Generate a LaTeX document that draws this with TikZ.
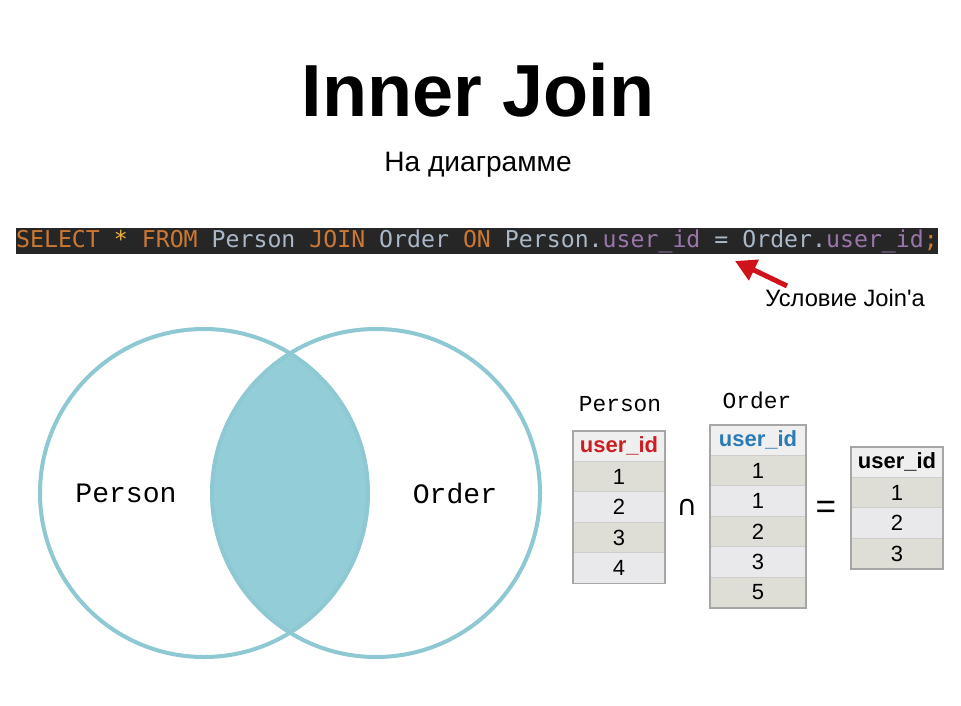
\documentclass[tikz,border=0pt]{standalone}
\usepackage{fontspec}
\setmainfont{Liberation Sans}
\setsansfont{Liberation Sans}
\setmonofont{Liberation Mono}
\newfontfamily\codefont{DejaVu Sans Mono}
\newfontfamily\symfont{DejaVu Sans}
\newfontfamily\notefont{Liberation Sans}[Ligatures=TeXOff]
\usetikzlibrary{arrows.meta,positioning}
\usepackage{xcolor}
\definecolor{codeBg}{HTML}{262626}
\definecolor{kwOrange}{HTML}{CC7832}
\definecolor{starYellow}{HTML}{F0B440}
\definecolor{identGray}{HTML}{A9B7C6}
\definecolor{fieldPurple}{HTML}{9876AA}
\definecolor{pointRed}{HTML}{D0121B}
\definecolor{setTeal}{HTML}{8DC8D3}
\definecolor{lensTeal}{HTML}{92CDD8}
\definecolor{cellLine}{HTML}{A6A6A6}
\definecolor{sepLine}{HTML}{CDCDCD}
\definecolor{headGray}{HTML}{EFEFEF}
\definecolor{rowDark}{HTML}{DEDED6}
\definecolor{rowLight}{HTML}{E9E9EB}
\definecolor{idRed}{HTML}{CC1F24}
\definecolor{idBlue}{HTML}{2C7BB6}
\newcommand{\kw}[1]{\textcolor{kwOrange}{#1}}
\newcommand{\fld}[1]{\textcolor{fieldPurple}{#1}}
\tikzset{
    codebar/.style={
        rectangle,
        fill=codeBg,
        inner sep=0pt,
        minimum width=184mm,
        minimum height=5.2mm,
        text=identGray,
        font=\codefont\fontsize{13.2}{13.2}\selectfont
    },
    setcircle/.style={
        circle,
        draw=setTeal,
        line width=0.8mm,
        minimum size=65.6mm,
        inner sep=0pt
    },
    setlabel/.style={font=\ttfamily\fontsize{16}{16}\selectfont},
    tablabel/.style={font=\ttfamily\fontsize{13}{13}\selectfont},
    cell/.style={
        rectangle,
        draw=sepLine,
        line width=0.25mm,
        outer sep=0pt,
        inner sep=0pt,
        minimum width=18.4mm,
        minimum height=6.1mm,
        font=\fontsize{12.5}{12.5}\selectfont
    },
    headcell/.style={cell, fill=headGray, font=\bfseries\fontsize{12.5}{12.5}\selectfont},
    darkrow/.style={cell, fill=rowDark},
    lightrow/.style={cell, fill=rowLight},
    tableframe/.style={draw=cellLine, line width=0.3mm},
    pointer/.style={-{Triangle[length=4.2mm,width=4.4mm]},line width=1mm,draw=pointRed}
}

\begin{document}
\begin{tikzpicture}[x=0.2mm,y=-0.2mm]
    \useasboundingbox[fill=white] (0,0) rectangle (961,705);

    % title and query
    \node[font=\bfseries\fontsize{42}{42}\selectfont] (title) at (478,90) {Inner Join};
    \node[font=\fontsize{16}{16}\selectfont] (subtitle) at (478,165) {На диаграмме};
    \node[codebar] (query) at (477,241)
        {\kw{SELECT} \textcolor{starYellow}{*} \kw{FROM} Person \kw{JOIN} Order \kw{ON} Person.\fld{user\_id} = Order.\fld{user\_id}\kw{;}};
    \node[font=\notefont\fontsize{13.5}{13.5}\selectfont, inner sep=0pt, anchor=west] (cond) at (765,298) {Условие Join'a};
    \coordinate (condtip) at (735,261);
    \draw[pointer] ([xshift=4.4mm,yshift=0.6mm]cond.north west) -- (condtip);

    % venn diagram
    \coordinate (pc) at (204,493);
    \coordinate (oc) at (376,493);
    \begin{scope}
        \clip (pc) circle[radius=32.8mm];
        \fill[lensTeal] (oc) circle[radius=32.8mm];
    \end{scope}
    \node[setcircle] (personset) at (pc) {};
    \node[setcircle] (orderset) at (oc) {};
    \node[setlabel] (personname) at (126,493) {Person};
    \node[setlabel] (ordername) at (455,493) {Order};

    % Person table
    \node[tablabel] (personlbl) at (620,404) {Person};
    \node[headcell, text=idRed] (ph) at (619,446) {user\_id};
    \node[darkrow, below=0pt of ph] (p1) {1};
    \node[lightrow, below=0pt of p1] (p2) {2};
    \node[darkrow, below=0pt of p2] (p3) {3};
    \node[lightrow, below=0pt of p3] (p4) {4};
    \draw[tableframe] (ph.north west) rectangle (p4.south east);

    \node[font=\symfont\fontsize{16}{16}\selectfont] (cap) at (687,507) {∩};

    % Order table
    \node[tablabel] (orderlbl) at (757,400) {Order};
    \node[headcell, text=idBlue, minimum width=19.2mm] (oh) at (758,440) {user\_id};
    \node[darkrow, minimum width=19.2mm, below=0pt of oh] (o1) {1};
    \node[lightrow, minimum width=19.2mm, below=0pt of o1] (o2) {1};
    \node[darkrow, minimum width=19.2mm, below=0pt of o2] (o3) {2};
    \node[lightrow, minimum width=19.2mm, below=0pt of o3] (o4) {3};
    \node[darkrow, minimum width=19.2mm, below=0pt of o4] (o5) {5};
    \draw[tableframe] (oh.north west) rectangle (o5.south east);

    \node[font=\fontsize{20}{20}\selectfont] (eq) at (826,510) {=};

    % result table
    \node[headcell] (rh) at (897,462) {user\_id};
    \node[darkrow, below=0pt of rh] (r1) {1};
    \node[lightrow, below=0pt of r1] (r2) {2};
    \node[darkrow, below=0pt of r2] (r3) {3};
    \draw[tableframe] (rh.north west) rectangle (r3.south east);
\end{tikzpicture}
\end{document}
